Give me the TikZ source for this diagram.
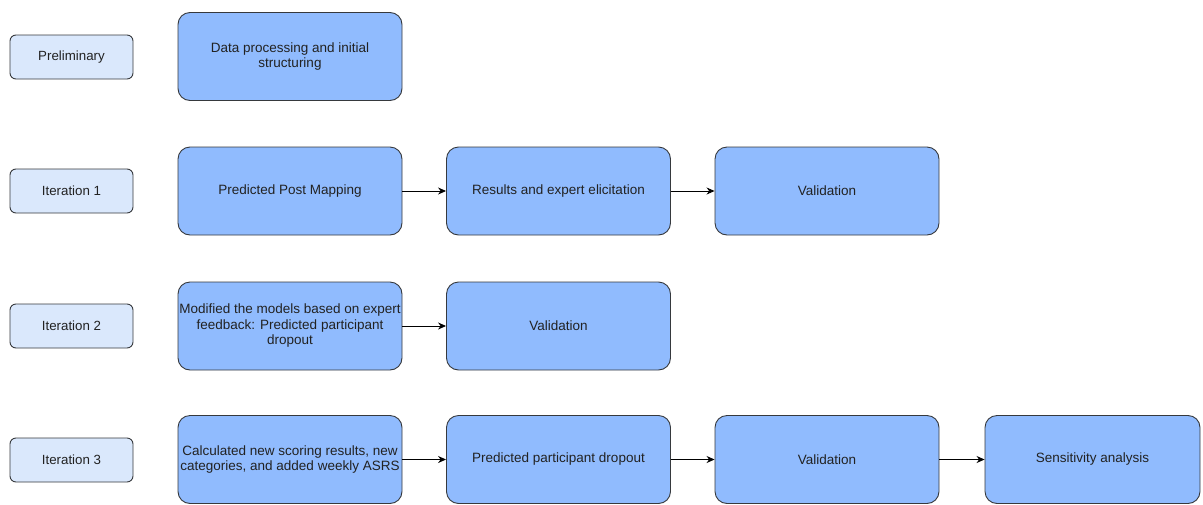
\documentclass[tikz,border=0pt]{standalone}
\usepackage{fontspec}
\setmainfont{Liberation Sans}
\usetikzlibrary{arrows.meta}
\definecolor{stagefill}{HTML}{DAE8FC}
\definecolor{taskfill}{HTML}{90BBFE}
\definecolor{edge}{HTML}{36393D}
\definecolor{ink}{HTML}{222222}
\begin{document}
\begin{tikzpicture}[x=1pt,y=-1pt,
  stagebox/.style={draw=edge, line width=0.9pt, fill=stagefill, rounded corners=6pt,
    minimum width=123pt, minimum height=44pt, inner sep=0pt, text=ink,
    font=\fontsize{13.3}{15.5}\selectfont},
  taskbox/.style={draw=edge, line width=0.9pt, fill=taskfill, rounded corners=12pt,
    minimum width=224pt, minimum height=88pt, inner sep=0pt, align=center, text=ink,
    font=\fontsize{13.5}{15.5}\selectfont},
  flow/.style={draw=black, line width=0.9pt, -{Stealth[length=8pt,width=7pt]}}]
\useasboundingbox (0,0) rectangle (1203,504);

% stage labels
\node[stagebox] (pre) at (71.5,57) {Preliminary};
\node[stagebox] (it1) at (71.5,191) {Iteration 1};
\node[stagebox] (it2) at (71.5,326) {Iteration 2};
\node[stagebox] (it3) at (71.5,460) {Iteration 3};

% preliminary
\node[taskbox] (p1) at (290,56.5) {Data processing and initial\\structuring};

% iteration 1
\node[taskbox] (a1) at (290,191) {Predicted Post Mapping};
\node[taskbox] (a2) at (558.5,191) {Results and expert elicitation};
\node[taskbox] (a3) at (827,191) {Validation};

% iteration 2
\node[taskbox] (b1) at (290,326) {Modified the models based on expert\\feedback: Predicted participant\\dropout};
\node[taskbox] (b2) at (558.5,326) {Validation};

% iteration 3
\node[taskbox] (c1) at (290,459.5) {Calculated new scoring results, new\\categories, and added weekly ASRS};
\node[taskbox] (c2) at (558.5,459.5) {Predicted participant dropout};
\node[taskbox] (c3) at (827,459.5) {Validation};
\node[taskbox, minimum width=215pt] (c4) at (1092.5,459.5) {Sensitivity analysis};

\draw[flow] (a1) -- (a2);
\draw[flow] (a2) -- (a3);
\draw[flow] (b1) -- (b2);
\draw[flow] (c1) -- (c2);
\draw[flow] (c2) -- (c3);
\draw[flow] (c3) -- (c4);
\end{tikzpicture}
\end{document}
